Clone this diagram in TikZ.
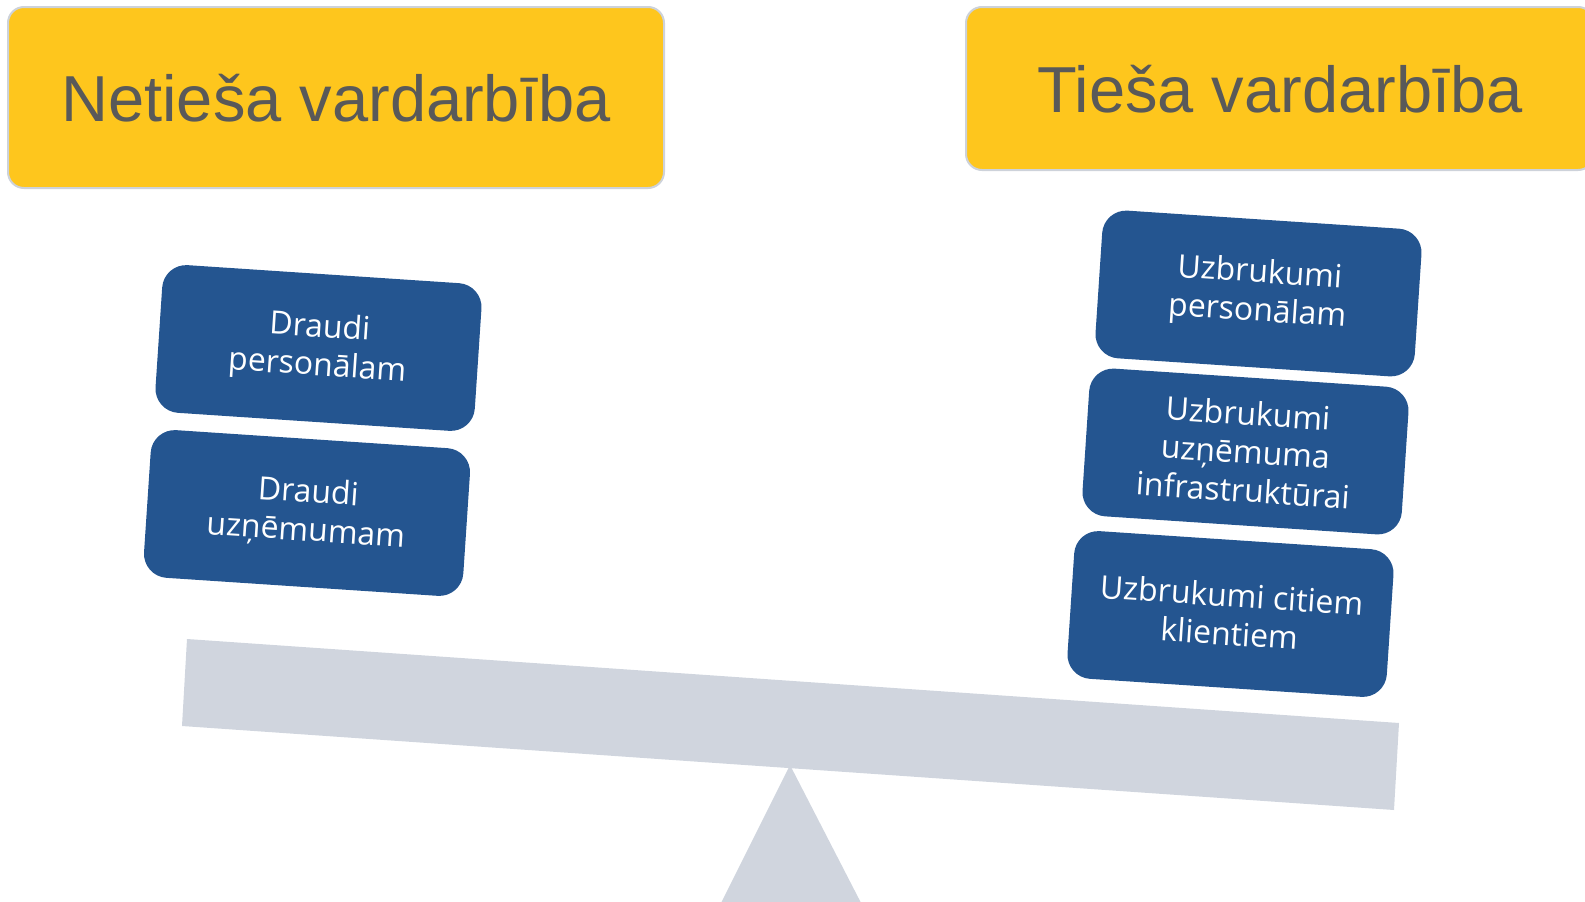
\documentclass[tikz,border=0pt]{standalone}
\usepackage{fontspec}
\setmainfont{Liberation Sans}
\newfontfamily\boxfont{Open Sans}
\usetikzlibrary{positioning, calc}
\definecolor{titleyellow}{HTML}{FEC61D}
\definecolor{titlegray}{HTML}{595959}
\definecolor{edgegray}{HTML}{CDD2DA}
\definecolor{itemblue}{HTML}{245590}
\definecolor{beamgray}{HTML}{D0D5DE}

\begin{document}
\begin{tikzpicture}[x=1pt, y=-1pt, % 1pt = 1px of the page
  titlebox/.style={draw=edgegray, line width=2pt, fill=titleyellow, rounded corners=16pt,
    text=titlegray, font=\fontsize{65}{70}\selectfont, text height=47pt, text depth=0pt, inner sep=0pt},
  itembox/.style={fill=itemblue, rounded corners=24pt, rotate=-3.8, minimum width=320pt,
    minimum height=148pt, inner sep=0pt, text=white, align=center, font=\boxfont\fontsize{32}{38.5}\selectfont}]

\useasboundingbox (0,0) rectangle (1585,902);
\clip (0,0) rectangle (1585,902);

% balance
\fill[beamgray] (790,765) -- (716.5,912) -- (865.7,912) -- cycle;
\fill[beamgray] (187,639) -- (1399,723) -- (1394,810) -- (182,726) -- cycle;

\node[titlebox, minimum width=656pt, minimum height=181pt] (indirect) at (336,97.5) {Netieša vardarbība};
\node[titlebox, minimum width=628pt, minimum height=163pt] (direct) at (1280,88.5) {Tieša vardarbība};

\node[itembox] (threatstaff) at (318.5,348) {Draudi\\personālam};
\node[itembox] (threatfirm) at (307,513) {Draudi\\uzņēmumam};

\node[itembox] (attackstaff) at (1258.5,293.5) {Uzbrukumi\\personālam};
\node[itembox] (attackinfra) at (1245.5,451.5) {Uzbrukumi\\uzņēmuma\\infrastruktūrai};
\node[itembox] (attackclient) at (1230.5,614) {Uzbrukumi citiem\\klientiem};

\end{tikzpicture}
\end{document}
